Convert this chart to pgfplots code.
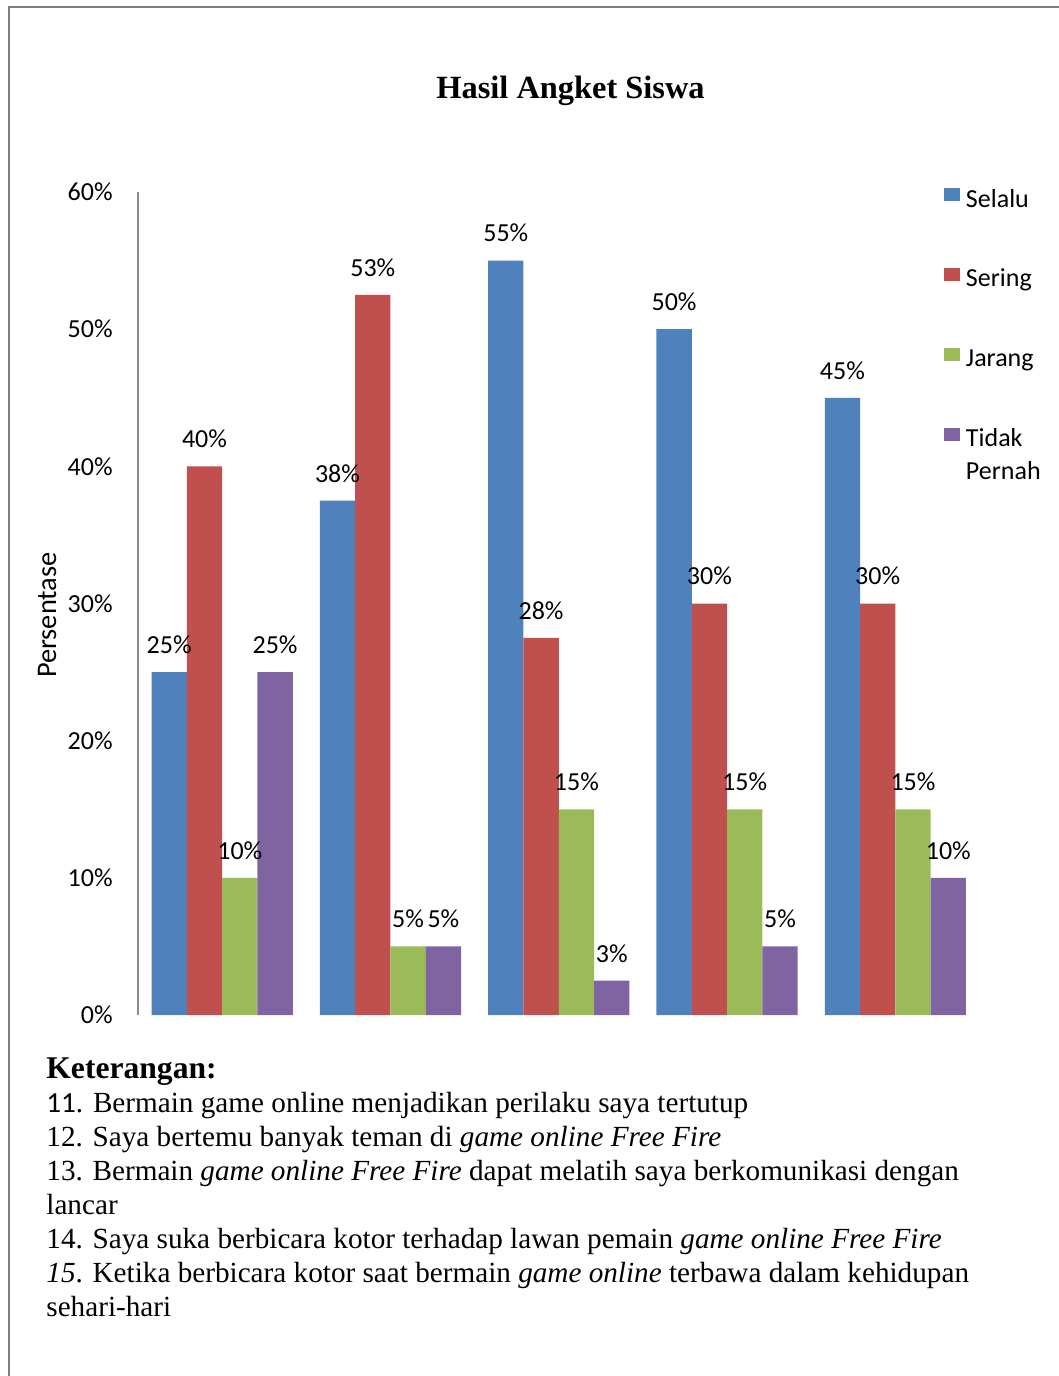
\documentclass[border=0pt]{standalone}
\usepackage{pgfplots}
\pgfplotsset{compat=1.18}
\usepackage{fontspec}
\setmainfont{Liberation Serif}
\newfontfamily\calibri{Carlito}

\definecolor{selalu}{HTML}{4F81BD}
\definecolor{sering}{HTML}{C0504D}
\definecolor{jarang}{HTML}{9BBB59}
\definecolor{tidak}{HTML}{8064A2}
\definecolor{axisgray}{HTML}{8C8C8C}
\definecolor{framegray}{HTML}{7F7F7F}

\newcommand\chartfont{\calibri\fontsize{13}{16.5}\selectfont}
\newcommand\bodyfont{\fontsize{14.6}{17}\selectfont}

% survey results (percent), items 11-15
\pgfplotstableread{
item selalu sering jarang tidak
0    25     40     10     25
1    37.5   52.5   5      5
2    55     27.5   15     2.5
3    50     30     15     5
4    45     30     15     10
}\angket

\begin{document}
\begin{tikzpicture}
\path[use as bounding box] (0,0) rectangle (529.5pt,-688pt);
\draw[framegray, line width=1pt] (4.25pt,-688pt) -- (4.25pt,-3.5pt) -- (529.5pt,-3.5pt);

\begin{axis}[
  at={(69pt,-507.5pt)}, anchor=south west,
  scale only axis, width=420.75pt, height=411.5pt,
  xmin=-0.5, xmax=4.5, ymin=0, ymax=60, enlargelimits=false,
  axis x line=none, axis y line*=left,
  y axis line style={draw=axisgray, line width=0.75pt},
  xtick=\empty,
  ytick={0,10,...,60}, ytick style={draw=none},
  yticklabel={\pgfmathprintnumber{\tick}\%},
  yticklabel style={font=\chartfont, /pgf/number format/assume math mode=true,
    inner sep=0pt, anchor=east, xshift=-12.5pt},
  ylabel={Persentase},
  ylabel style={font=\calibri\fontsize{14.2}{16}\selectfont,
    at={(axis description cs:-0.108,0.486)}, anchor=center},
  ybar=0pt, bar width=17.65pt,
  nodes near coords={\pgfmathprintnumber[fixed,precision=0]{\pgfplotspointmeta}\%},
  nodes near coords style={font=\chartfont, inner sep=0pt, anchor=base,
    yshift=9.3pt, /pgf/number format/assume math mode=true},
  legend style={draw=none, fill=none, inner sep=0pt,
    at={(axis description cs:0.9578,1.0049)}, anchor=north west,
    font=\chartfont, row sep=27.5pt, column sep=3pt,
    nodes={inner sep=0pt, text width=2.2cm, align=left, text height=9pt, text depth=3pt}},
  legend cell align=left,
  legend image code/.code={\draw[#1, draw=none] (0pt,0pt) rectangle (7.8pt,6.4pt);},
]
\addplot[fill=selalu, draw=none] table[x=item, y=selalu] {\angket};
\addplot[fill=sering, draw=none] table[x=item, y=sering] {\angket};
\addplot[fill=jarang, draw=none] table[x=item, y=jarang] {\angket};
\addplot[fill=tidak,  draw=none] table[x=item, y=tidak]  {\angket};
\legend{Selalu, Sering, Jarang, Tidak\\Pernah}
\end{axis}

% title
\node[anchor=base, inner sep=0pt, font=\bfseries\fontsize{16.2}{19}\selectfont]
  at (285.25pt,-49pt) {Hasil Angket Siswa};

% item descriptions
\begin{scope}[every node/.style={anchor=base west, inner sep=0pt, font=\bodyfont}]
\node at (23pt,-539pt) {\bfseries\fontsize{15.8}{18}\selectfont Keterangan:};
\node at (23pt,-556pt) {{\calibri 11}. Bermain game online menjadikan perilaku saya tertutup};
\node at (23pt,-573pt) {12. Saya bertemu banyak teman di \textit{game online Free Fire}};
\node at (23pt,-590pt) {13. Bermain \textit{game online Free Fire} dapat melatih saya berkomunikasi dengan};
\node at (23pt,-607pt) {lancar};
\node at (23pt,-624pt) {14. Saya suka berbicara kotor terhadap lawan pemain \textit{game online Free Fire}};
\node at (23pt,-641pt) {\textit{15}. Ketika berbicara kotor saat bermain \textit{game online} terbawa dalam kehidupan};
\node at (23pt,-658pt) {sehari-hari};
\end{scope}
\end{tikzpicture}
\end{document}
